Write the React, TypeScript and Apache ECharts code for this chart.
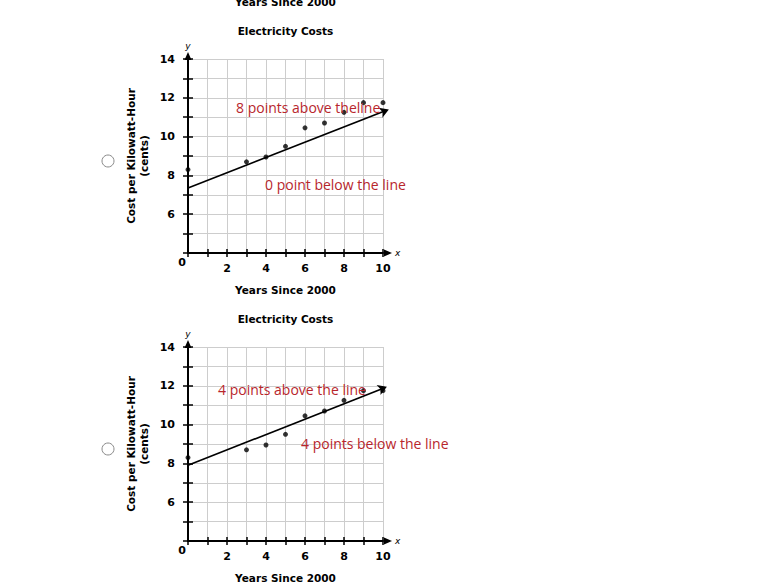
import React, { useEffect, useRef } from "react";
import * as echarts from "echarts";

// ---- data ----
const years = [0, 3, 4, 5, 6, 7, 8, 9, 10];
const costs = [8.3, 8.7, 8.95, 9.5, 10.45, 10.7, 11.25, 11.75, 11.75];
const fitLineA = [[0, 7.35], [10.3, 11.4]];
const fitLineB = [[0, 7.9], [10.2, 11.95]];
const xTicks = [2, 4, 6, 8, 10];
const yTicks = [6, 8, 10, 12, 14];
const chartTitle = "Electricity Costs";
const xAxisTitle = "Years Since 2000";
const yAxisTitle = "Cost per Kilowatt-Hour\n(cents)";
const notesA = ["8 points above theline", "0 point below the line"];
const notesB = ["4 points above the line", "4 points below the line"];

const FONT = '"DejaVu Sans", Verdana, sans-serif';
const NOTE_FONT = '"Open Sans", "Noto Sans", sans-serif';

const GRID_LEFT = 188;
const GRID_W = 195;
const GRID_H = 194;
const GRID_TOPS = [59, 347];

function axesFor(g: number) {
  const boldText = { color: "#000", fontWeight: "bold", fontFamily: FONT, fontSize: 10.5 };
  const tickText = { ...boldText, fontSize: 11 };
  const tickStyle = { color: "#000", width: 1.5 };
  const xMain = {
    type: "value", gridIndex: g, min: 0, max: 10, interval: 1, position: "bottom",
    axisLine: { onZero: false, lineStyle: { color: "#000", width: 2 }, symbol: ["none", "triangle"], symbolSize: [7, 8], symbolOffset: [0, 5] },
    axisTick: { show: true, inside: true, length: 4, lineStyle: tickStyle },
    axisLabel: { ...tickText, margin: 10, formatter: (v: number) => (xTicks.includes(v) ? String(v) : "") },
    splitLine: { show: true, lineStyle: { color: "#cdcdcd", width: 1 } },
    name: xAxisTitle, nameLocation: "middle", nameGap: 31, nameTextStyle: boldText,
  };
  const xHelper = {
    type: "value", gridIndex: g, min: 0, max: 10, interval: 1, position: "top", offset: -GRID_H,
    axisLine: { show: false, onZero: false },
    axisTick: { show: true, inside: true, length: 4, lineStyle: tickStyle },
    axisLabel: { show: false }, splitLine: { show: false },
    name: "x", nameLocation: "end", nameGap: 12,
    nameTextStyle: { color: "#000", fontStyle: "italic", fontFamily: FONT, fontSize: 9 },
  };
  const yMain = {
    type: "value", gridIndex: g, min: 4, max: 14, interval: 1, position: "left",
    axisLine: { onZero: false, lineStyle: { color: "#000", width: 2 }, symbol: ["none", "triangle"], symbolSize: [7, 8], symbolOffset: [0, 3] },
    axisTick: { show: true, inside: true, length: 5, lineStyle: tickStyle },
    axisLabel: { ...tickText, margin: 13, formatter: (v: number) => (yTicks.includes(v) ? String(v) : "") },
    splitLine: { show: true, lineStyle: { color: "#cdcdcd", width: 1 } },
    name: yAxisTitle, nameLocation: "middle", nameRotate: 90, nameGap: 38,
    nameTextStyle: { ...boldText, lineHeight: 13, align: "center" },
  };
  const yHelper = {
    type: "value", gridIndex: g, min: 4, max: 14, interval: 1, position: "right", offset: -GRID_W,
    axisLine: { show: false, onZero: false },
    axisTick: { show: true, inside: true, length: 5, lineStyle: tickStyle },
    axisLabel: { show: false }, splitLine: { show: false },
    name: "y", nameLocation: "end", nameGap: 9,
    nameTextStyle: { color: "#000", fontStyle: "italic", fontFamily: FONT, fontSize: 9 },
  };
  return { x: [xMain, xHelper], y: [yMain, yHelper] };
}

function buildOption(rots: number[]) {
  const a0 = axesFor(0);
  const a1 = axesFor(1);
  const points = years.map((y, i) => [y, costs[i]]);
  const lineSeries = (line: number[][], axisIdx: number, rot: number) => ({
    type: "line", xAxisIndex: axisIdx, yAxisIndex: axisIdx, clip: false, z: 3,
    lineStyle: { color: "#000", width: 1.6 }, itemStyle: { color: "#000" },
    data: [
      { value: line[0], symbol: "none" },
      { value: line[1], symbol: "arrow", symbolSize: [8, 9], symbolRotate: rot },
    ],
  });
  const scatterSeries = (axisIdx: number) => ({
    type: "scatter", xAxisIndex: axisIdx, yAxisIndex: axisIdx, symbol: "circle", symbolSize: 5, z: 4,
    itemStyle: { color: "#000" }, data: points,
  });
  const cx = GRID_LEFT + GRID_W / 2;
  const noteStyle = (text: string) => ({ text, fill: "#b8262c", font: `14px ${NOTE_FONT}`, textVerticalAlign: "middle" });
  const boldFont = `bold 10.5px ${FONT}`;
  return {
    animation: false,
    backgroundColor: "#fff",
    grid: GRID_TOPS.map((t) => ({ left: GRID_LEFT, top: t, width: GRID_W, height: GRID_H })),
    xAxis: [...a0.x, ...a1.x],
    yAxis: [...a0.y, ...a1.y],
    series: [
      lineSeries(fitLineA, 0, rots[0]),
      scatterSeries(0),
      lineSeries(fitLineB, 2, rots[1]),
      scatterSeries(2),
    ],
    graphic: [
      { type: "text", x: cx, y: 1.5, style: { text: xAxisTitle, font: boldFont, fill: "#000", textAlign: "center", textVerticalAlign: "middle" } },
      { type: "text", x: cx, y: 31, style: { text: chartTitle, font: boldFont, fill: "#000", textAlign: "center", textVerticalAlign: "middle" } },
      { type: "text", x: cx, y: 319, style: { text: chartTitle, font: boldFont, fill: "#000", textAlign: "center", textVerticalAlign: "middle" } },
      { type: "text", x: 182, y: 262, style: { text: "0", font: `bold 11px ${FONT}`, fill: "#000", textAlign: "center", textVerticalAlign: "middle" } },
      { type: "text", x: 182, y: 550, style: { text: "0", font: `bold 11px ${FONT}`, fill: "#000", textAlign: "center", textVerticalAlign: "middle" } },
      { type: "circle", shape: { cx: 108, cy: 161, r: 6 }, style: { fill: "#fff", stroke: "#8a8a8a", lineWidth: 1 } },
      { type: "circle", shape: { cx: 108, cy: 449, r: 6 }, style: { fill: "#fff", stroke: "#8a8a8a", lineWidth: 1 } },
      { type: "text", x: 236, y: 107, z: 100, style: noteStyle(notesA[0]) },
      { type: "text", x: 265, y: 184, z: 100, style: noteStyle(notesA[1]) },
      { type: "text", x: 218, y: 389, z: 100, style: noteStyle(notesB[0]) },
      { type: "text", x: 301, y: 443, z: 100, style: noteStyle(notesB[1]) },
    ],
  };
}

export default function App() {
  const ref = useRef<HTMLDivElement>(null);
  useEffect(() => {
    if (!ref.current) return;
    const chart = echarts.init(ref.current, null, { renderer: "svg" });
    chart.setOption(buildOption([-68, -68]) as any);
    const rotFor = (line: number[][], seriesIndex: number) => {
      const p0 = chart.convertToPixel({ seriesIndex }, line[0]) as number[];
      const p1 = chart.convertToPixel({ seriesIndex }, line[1]) as number[];
      const theta = (Math.atan2(-(p1[1] - p0[1]), p1[0] - p0[0]) * 180) / Math.PI;
      return theta - 90;
    };
    const rots = [rotFor(fitLineA, 0), rotFor(fitLineB, 2)];
    chart.setOption(buildOption(rots) as any);
    return () => chart.dispose();
  }, []);
  return (
    <div
      ref={ref}
      style={{ position: "absolute", left: 0, top: 0, width: 774, height: 584, background: "#fff" }}
    />
  );
}
